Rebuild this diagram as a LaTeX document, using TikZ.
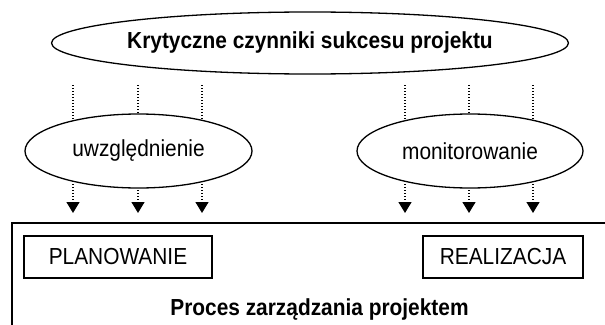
\documentclass[tikz,border=0pt]{standalone}
\usepackage{fontspec}
\setmainfont{Liberation Sans}[FakeStretch=0.9]
\usetikzlibrary{shapes.geometric,arrows.meta,backgrounds}

\tikzset{
  txt/.style={font=\fontsize{23.2}{27}\selectfont},
  btxt/.style={font=\fontsize{23.2}{27}\selectfont\bfseries},
  oval/.style={ellipse, draw, line width=1.3pt, fill=white, inner sep=0pt},
  stagebox/.style={rectangle, draw, line width=1.2pt, inner sep=0pt, txt},
  flow/.style={line width=1.3pt, dash pattern=on 1.4pt off 1.6pt},
  tip/.style={-{Triangle[width=13pt,length=11pt]}},
}

\begin{document}
\begin{tikzpicture}[x=1pt,y=-1pt]
  \useasboundingbox (0,0) rectangle (605,324);

  % factors and the two activities
  \node[oval, btxt, minimum width=494pt, minimum height=62pt] (ksp) at (310,43)
    {Krytyczne czynniki sukcesu projektu};
  \node[oval, txt, minimum width=227pt, minimum height=74pt] (uw) at (138.5,151)
    {uwzględnienie};
  \node[oval, txt, minimum width=226pt, minimum height=74pt] (mon) at (470,151)
    {monitorowanie};

  % start and end points of the influence lines
  \foreach \i/\x in {1/73,2/138,3/202,4/405,5/469,6/533}{
    \coordinate (s\i) at (\x,85);
    \coordinate (e\i) at (\x,213);
  }

  % dotted influence lines, hidden behind the white ovals
  \begin{scope}[on background layer]
    \foreach \i in {1,2,3}{
      \draw[flow] (s\i) -- (s\i |- uw.center);
      \draw[flow, tip] (s\i |- uw.center) -- (e\i);
    }
    \foreach \i in {4,5,6}{
      \draw[flow] (s\i) -- (s\i |- mon.center);
      \draw[flow, tip] (s\i |- mon.center) -- (e\i);
    }
  \end{scope}

  % project management process area
  \coordinate (pbl) at (12,330);
  \coordinate (ptl) at (12,223);
  \coordinate (ptr) at (610,223);
  \draw[line width=1.6pt] (pbl) -- (ptl) -- (ptr);

  \node[stagebox, minimum width=188pt, minimum height=42pt] (plan) at (118,257) {PLANOWANIE};
  \node[stagebox, minimum width=160pt, minimum height=42pt] (real) at (503,257) {REALIZACJA};
  \node[btxt, anchor=base] (proc) at (319.5,315) {Proces zarządzania projektem};
\end{tikzpicture}
\end{document}
